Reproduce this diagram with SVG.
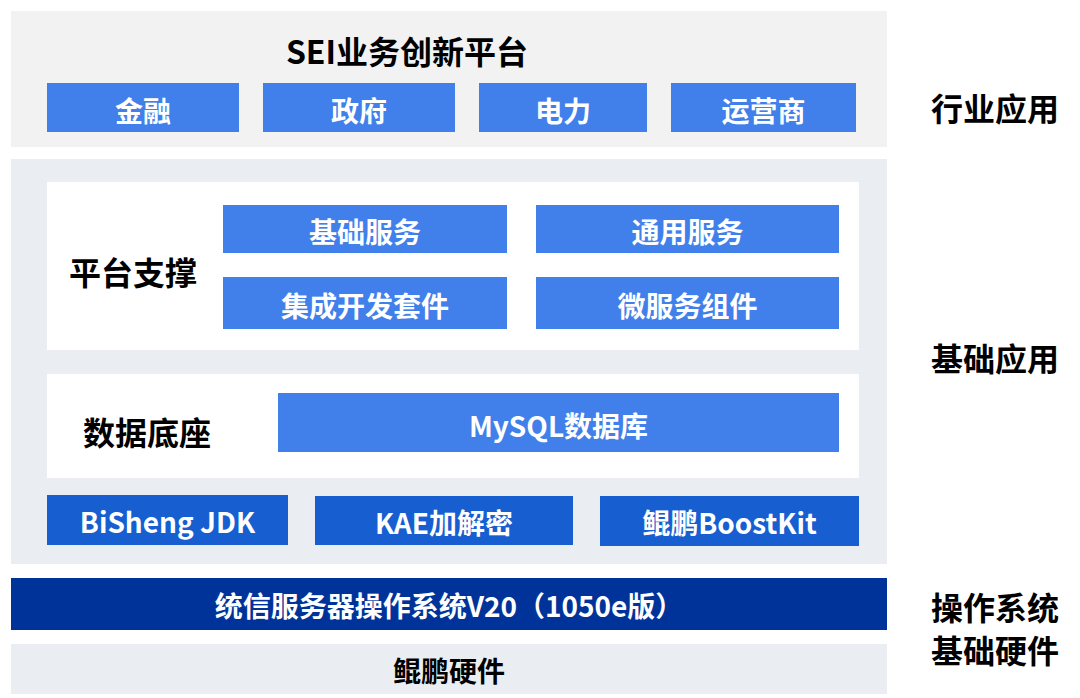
<svg xmlns="http://www.w3.org/2000/svg" width="1080" height="698" viewBox="0 0 1080 698">
<style>
text{font-family:"Noto Sans CJK SC","Noto Sans",sans-serif;font-weight:700;text-anchor:middle;dominant-baseline:central}
.w{fill:#ffffff;font-size:28px}
.k{fill:#000000;font-size:32px}
.b{fill:#4180ea}
.d{fill:#175ed0}
.g{fill:#eaedf2}
</style>
<rect width="1080" height="698" fill="#ffffff"/>
<g id="industry">
<rect x="11" y="11" width="876" height="136" fill="#f2f2f2"/>
<text x="407" y="50" class="k">SEI业务创新平台</text>
</g>
<g id="jinrong"><rect x="47" y="83" width="192" height="49" class="b"/><text x="143" y="109.5" class="w">金融</text></g>
<g id="zhengfu"><rect x="263" y="83" width="192" height="49" class="b"/><text x="359" y="109.5" class="w">政府</text></g>
<g id="dianli"><rect x="479" y="83" width="168" height="49" class="b"/><text x="563" y="109.5" class="w">电力</text></g>
<g id="yunying"><rect x="671" y="83" width="185" height="49" class="b"/><text x="763.5" y="109.5" class="w">运营商</text></g>
<g id="base">
<rect x="11" y="159" width="876" height="405" class="g"/>
</g>
<g id="platform">
<rect x="47" y="182" width="812" height="168" fill="#ffffff"/>
<text x="133" y="271" class="k">平台支撑</text>
</g>
<g id="jichu"><rect x="223" y="205" width="284" height="48" class="b"/><text x="365" y="231" class="w">基础服务</text></g>
<g id="tongyong"><rect x="536" y="205" width="303" height="48" class="b"/><text x="687.5" y="231" class="w">通用服务</text></g>
<g id="jicheng"><rect x="223" y="277" width="284" height="52" class="b"/><text x="365" y="305" class="w">集成开发套件</text></g>
<g id="weifuwu"><rect x="536" y="277" width="303" height="52" class="b"/><text x="687.5" y="305" class="w">微服务组件</text></g>
<g id="data">
<rect x="47" y="374" width="812" height="104" fill="#ffffff"/>
<text x="147" y="431" class="k">数据底座</text>
</g>
<g id="mysql"><rect x="278" y="393" width="561" height="59" class="b"/><text x="558.5" y="424.5" class="w">MySQL数据库</text></g>
<g id="bisheng"><rect x="47" y="495" width="241" height="50" class="d"/><text x="167.5" y="521" class="w">BiSheng JDK</text></g>
<g id="kae"><rect x="315" y="496" width="258" height="49" class="d"/><text x="444" y="521.5" class="w">KAE加解密</text></g>
<g id="boost"><rect x="600" y="496" width="259" height="50" class="d"/><text x="729.5" y="522" class="w">鲲鹏BoostKit</text></g>
<g id="os"><rect x="11" y="578" width="876" height="52" fill="#003399"/><text x="449" y="605" class="w">统信服务器操作系统V20（1050e版）</text></g>
<g id="hw"><rect x="11" y="644" width="876" height="50" class="g"/><text x="449" y="670" class="k" style="font-size:28px">鲲鹏硬件</text></g>
<g id="labels">
<text x="995" y="107" class="k">行业应用</text>
<text x="995" y="357" class="k">基础应用</text>
<text x="995" y="606" class="k">操作系统</text>
<text x="995" y="649" class="k">基础硬件</text>
</g>
<g id="connectors"></g>
</svg>
